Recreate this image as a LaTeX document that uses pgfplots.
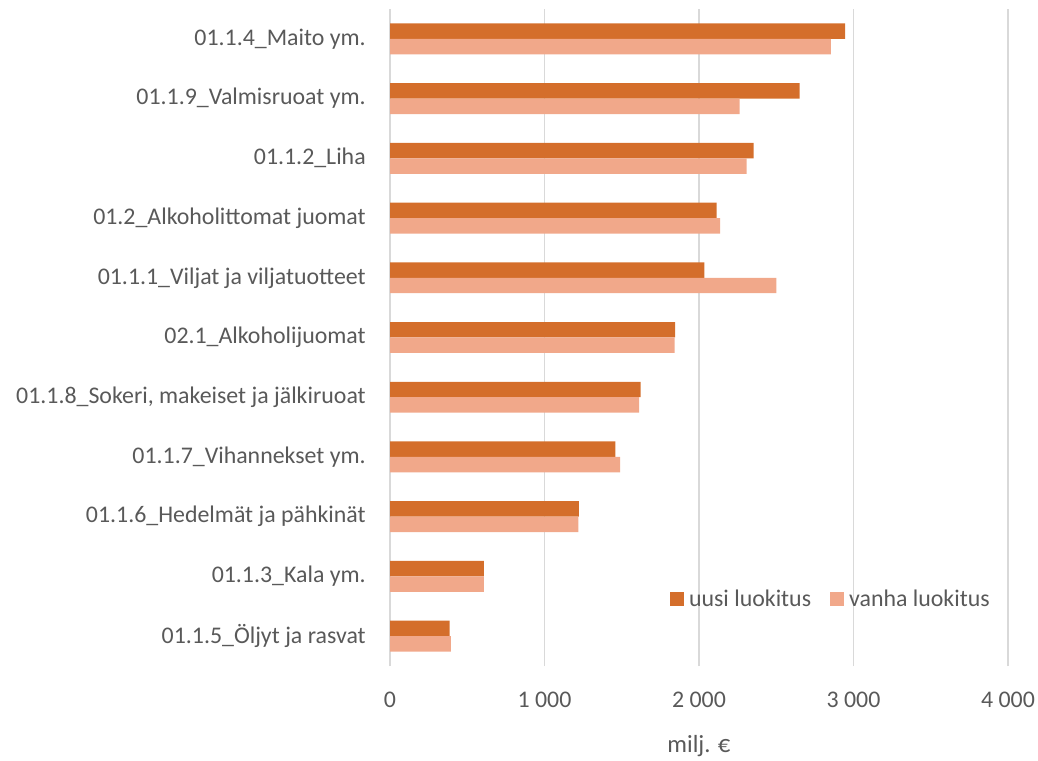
\documentclass[border=0pt]{standalone}
\usepackage{fontspec}
\setmainfont{Carlito}
\usepackage{pgfplots}
\pgfplotsset{compat=1.18}
\definecolor{uusi}{HTML}{D46E2B}
\definecolor{vanha}{HTML}{F1A88A}
\definecolor{gridc}{HTML}{D9D9D9}
\definecolor{txt}{HTML}{595959}
\begin{document}
\begin{tikzpicture}
\path[use as bounding box] (0pt,0pt) rectangle (778.5pt,570pt);
\begin{axis}[
  at={(292.5pt,70.5pt)}, anchor=south west,
  scale only axis, width=463.5pt, height=492.75pt,
  xmin=0, xmax=4000, ymin=-0.5, ymax=10.5,
  xbar, bar width=11.6pt,
  axis line style={draw=none},
  major tick length=0pt,
  xmajorgrids, grid style={gridc, line width=0.9pt},
  xtick={0,1000,2000,3000,4000},
  xticklabels={0,1 000,2 000,3 000,4 000},
  ytick={0,...,10},
  yticklabels={01.1.5\_Öljyt ja rasvat,01.1.3\_Kala ym.,01.1.6\_Hedelmät ja pähkinät,01.1.7\_Vihannekset ym.,01.1.8\_Sokeri{,} makeiset ja jälkiruoat,02.1\_Alkoholijuomat,01.1.1\_Viljat ja viljatuotteet,01.2\_Alkoholittomat juomat,01.1.2\_Liha,01.1.9\_Valmisruoat ym.,01.1.4\_Maito ym.},
  tick label style={font=\fontsize{17.9}{21}\selectfont, text=txt},
  yticklabel style={anchor=east, inner sep=0pt, xshift=-18pt},
  xticklabel style={anchor=base, inner sep=0pt, yshift=-30.75pt},
  xlabel={milj. €},
  xlabel style={at={(axis description cs:0.5,0)}, anchor=base, yshift=-64.5pt, inner sep=0pt, font=\fontsize{18.5}{21}\selectfont, text=txt},
  legend columns=2,
  legend style={at={(axis cs:1809,0.62)}, anchor=west, draw=none, fill=none, inner sep=0pt,
    font=\fontsize{17.9}{21}\selectfont, text=txt,
    /tikz/every odd column/.append style={column sep=2pt},
    /tikz/every even column/.append style={column sep=12pt}},
  legend image code/.code={\fill[#1] (0pt,-5.25pt) rectangle (10.5pt,5.25pt);},
]
\addplot[fill=uusi, draw=none, bar shift=5.8pt] coordinates {
(386,0) (608,1) (1223,2) (1459,3) (1622,4) (1845,5) (2035,6) (2114,7) (2354,8) (2652,9) (2945,10)};
\addplot[fill=vanha, draw=none, bar shift=-5.8pt] coordinates {
(394,0) (608,1) (1220,2) (1489,3) (1612,4) (1843,5) (2501,6) (2136,7) (2309,8) (2263,9) (2854,10)};
\legend{uusi luokitus, vanha luokitus}
\end{axis}
\end{tikzpicture}
\end{document}
